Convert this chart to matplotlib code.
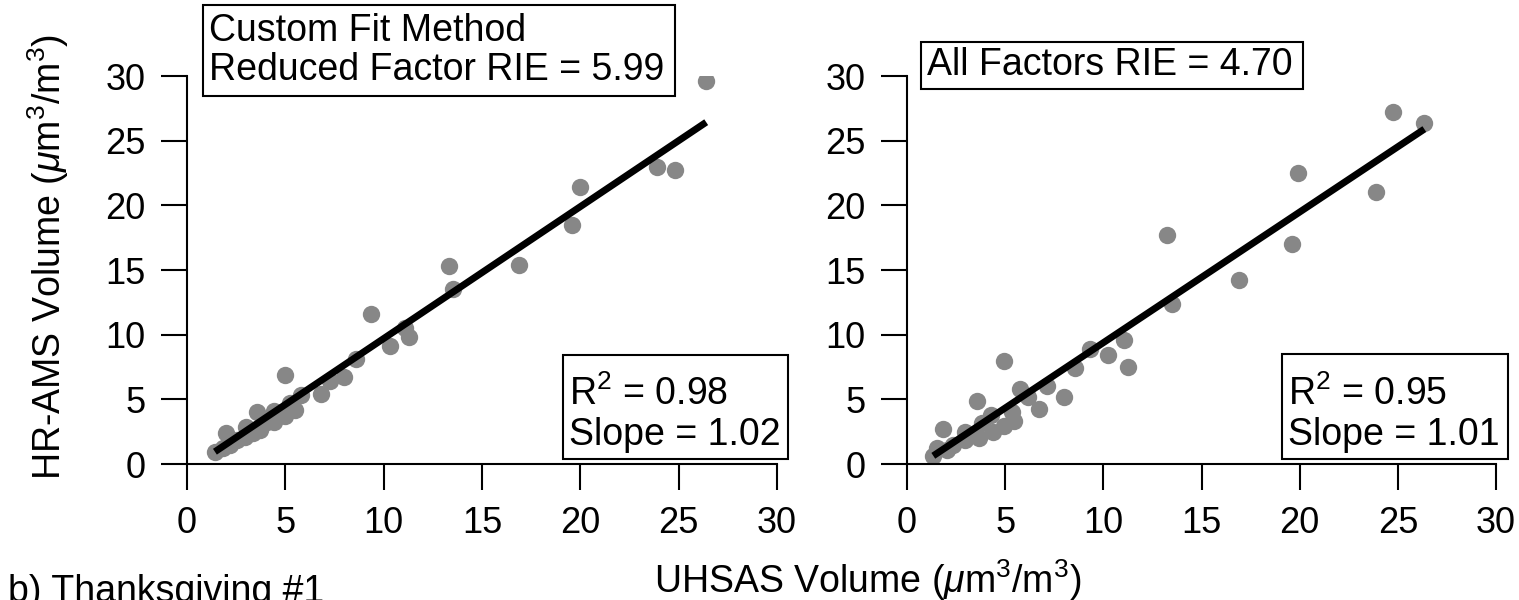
import matplotlib.pyplot as plt
import numpy as np

plt.rcParams['font.family'] = ['Liberation Sans', 'DejaVu Sans']
plt.rcParams['mathtext.fontset'] = 'custom'
plt.rcParams['mathtext.rm'] = 'Liberation Sans'
plt.rcParams['mathtext.it'] = 'Liberation Sans:italic'

# panel izquierdo: custom fit, reduced factor RIE
uhsas_izq = [26.4, 23.9, 24.8, 20.0, 19.6, 13.3, 13.5, 16.9, 11.3, 11.1, 9.35, 10.3,
             8.6, 8.0, 7.25, 6.8, 5.8, 4.98, 5.5, 4.98, 5.24, 4.4, 4.4, 3.57, 3.71,
             3.0, 1.98, 2.53, 3.36, 1.42, 1.85, 2.19, 2.95, 4.05]
ams_izq = [29.6, 23.0, 22.7, 21.4, 18.5, 15.3, 13.5, 15.4, 9.8, 10.5, 11.6, 9.1,
           8.15, 6.7, 6.4, 5.45, 5.35, 6.85, 4.18, 3.75, 4.7, 4.1, 3.25, 4.05, 2.63,
           2.89, 2.37, 1.86, 2.4, 0.95, 1.21, 1.47, 2.11, 3.27]

# panel derecho: all factors RIE
uhsas_der = [24.74, 26.35, 19.93, 23.89, 13.26, 19.63, 16.93, 13.48, 11.07, 10.26, 11.27,
             9.32, 8.56, 8.0, 7.15, 6.74, 6.18, 5.76, 5.47, 5.33, 4.96, 4.94, 4.4, 4.26,
             3.8, 3.68, 3.55, 2.95, 2.95, 2.36, 2.02, 1.85, 1.51, 1.34]
ams_der = [27.2, 26.4, 22.5, 21.0, 17.7, 17.0, 14.2, 12.4, 9.55, 8.4, 7.5,
           8.9, 7.45, 5.2, 6.0, 4.25, 5.2, 5.8, 3.33, 4.05, 2.9, 8.0, 2.5, 3.8,
           3.15, 2.0, 4.9, 2.5, 1.86, 1.47, 1.08, 2.71, 1.21, 0.6]

pendientes = [1.02, 1.01]
interceptos = [-0.5, -0.72]
r2 = [0.98, 0.95]
ticks = [0, 5, 10, 15, 20, 25, 30]

W, H = 1519, 600
fig = plt.figure(figsize=(W / 100, H / 100), dpi=100)


def px(x, y):
    return x / W, 1 - y / H


def caja(x0, y0, x1, y1):
    # recuadro en pixeles de la figura
    r = plt.Rectangle(px(x0, y1), (x1 - x0) / W, (y1 - y0) / H, transform=fig.transFigure,
                      fc='white', ec='black', lw=1.5, zorder=5)
    fig.add_artist(r)


def linea(x, y, s):
    fig.text(*px(x, y), s, fontsize=27, ha='left', va='baseline', zorder=6)


ax1 = fig.add_axes([187 / W, 136 / H, 590 / W, 388 / H])
ax2 = fig.add_axes([907 / W, 136 / H, 589 / W, 388 / H])

datos = [(uhsas_izq, ams_izq), (uhsas_der, ams_der)]
for i, ax in enumerate([ax1, ax2]):
    x, y = datos[i]
    ax.plot(x, y, 'o', color='#878787', markersize=12.5, markeredgewidth=0, zorder=2)
    xl = np.array([min(x), max(x)])
    ax.plot(xl, pendientes[i] * xl + interceptos[i], color='black', lw=5,
            solid_capstyle='butt', zorder=3)
    ax.set_xlim(0, 30)
    ax.set_ylim(0, 30)
    ax.set_xticks(ticks)
    ax.set_yticks(ticks)
    ax.spines['top'].set_visible(False)
    ax.spines['right'].set_visible(False)
    ax.spines['left'].set_linewidth(1.5)
    ax.spines['bottom'].set_linewidth(1.5)
    ax.tick_params(direction='out', length=19, width=1.5, labelsize=26, pad=11)
    ax.patch.set_alpha(0)

# cuadros de texto
caja(203, 5, 675, 96)
linea(209, 41, 'Custom Fit Method')
linea(209, 80, 'Reduced Factor RIE = 5.99')

caja(563, 355, 788, 459)
linea(569, 405, 'R$^2$ = %.2f' % r2[0])
linea(569, 445, 'Slope = %.2f' % pendientes[0])

caja(921, 42, 1303, 89)
linea(927, 75, 'All Factors RIE = 4.70')

caja(1282, 354, 1508, 459)
linea(1288, 405, 'R$^2$ = %.2f' % r2[1])
linea(1288, 445, 'Slope = %.2f' % pendientes[1])

fig.text(*px(48, 257), r'HR-AMS Volume ($\mu\mathrm{m}^3/\mathrm{m}^3$)', fontsize=27,
         rotation=90, ha='center', va='center')
fig.text(*px(868, 593), r'UHSAS Volume ($\mu\mathrm{m}^3/\mathrm{m}^3$)', fontsize=27,
         ha='center', va='baseline')
fig.text(*px(8, 602), 'b) Thanksgiving #1', fontsize=27, ha='left', va='baseline')

plt.savefig('out.png', dpi=100)
